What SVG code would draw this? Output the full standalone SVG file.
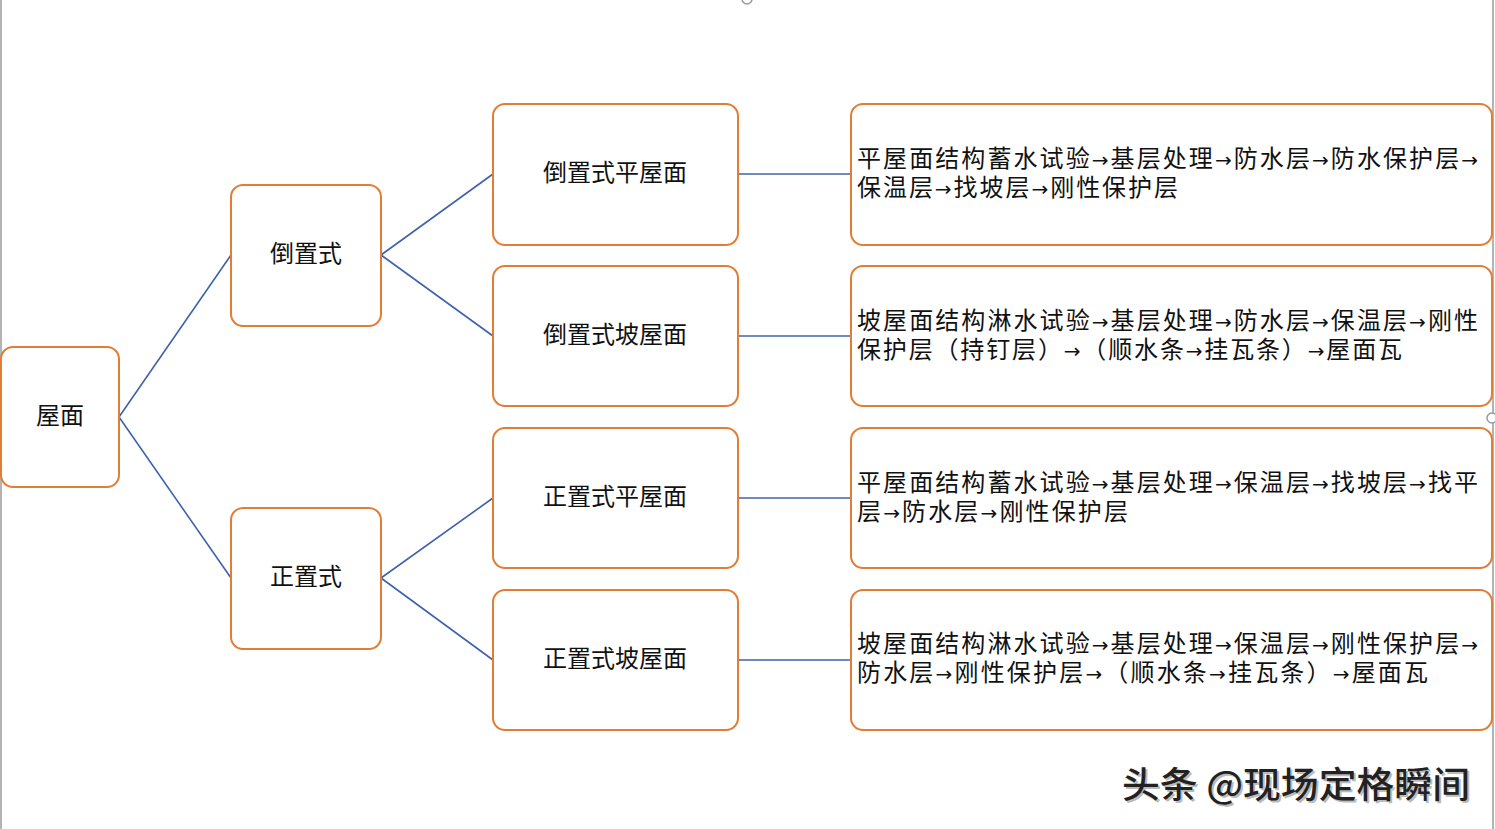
<svg xmlns="http://www.w3.org/2000/svg" width="1495" height="829" viewBox="0 0 1495 829">
<style>
.box{fill:#fff;stroke:#E27D36;stroke-width:2}
.conn{stroke:#3F62AD;stroke-width:1.6;fill:none}
.t{font-family:"Liberation Serif","Noto Sans CJK SC",serif;font-size:24px;fill:#111}
.a{font-family:"DejaVu Sans",sans-serif;font-size:20px}
.c{text-anchor:middle}
.wm{font-family:"Noto Sans CJK SC","Noto Sans",sans-serif;font-size:36px;font-weight:500;fill:#222}
.wms{font-family:"Noto Sans CJK SC","Noto Sans",sans-serif;font-size:36px;font-weight:500;fill:#bbb}
</style>
<rect width="1495" height="829" fill="#fff"/>
<g id="frame" stroke="#9a9a9a" stroke-width="1.5" fill="#fff">
<line x1="1" y1="0" x2="1" y2="829"/>
<line x1="1493" y1="0" x2="1493" y2="829"/>
<circle cx="747" cy="-1" r="5"/>
<circle cx="1492" cy="418" r="5"/>
<rect x="-2" y="408" width="12" height="17" stroke="#ccc"/>
</g>
<g id="connectors">
<line class="conn" x1="119" y1="417" x2="231" y2="255"/>
<line class="conn" x1="119" y1="417" x2="231" y2="578"/>
<line class="conn" x1="381" y1="255" x2="493" y2="174"/>
<line class="conn" x1="381" y1="255" x2="493" y2="336"/>
<line class="conn" x1="381" y1="578" x2="493" y2="498"/>
<line class="conn" x1="381" y1="578" x2="493" y2="660"/>
<line class="conn" x1="738" y1="174" x2="851" y2="174"/>
<line class="conn" x1="738" y1="336" x2="851" y2="336"/>
<line class="conn" x1="738" y1="498" x2="851" y2="498"/>
<line class="conn" x1="738" y1="660" x2="851" y2="660"/>
</g>
<g id="n-root"><rect class="box" x="1" y="347" width="118" height="140" rx="12"/><text class="t c" x="60" y="424">屋面</text></g>
<g id="n-daozhi"><rect class="box" x="231" y="185" width="150" height="141" rx="12"/><text class="t c" x="306" y="262">倒置式</text></g>
<g id="n-zhengzhi"><rect class="box" x="231" y="508" width="150" height="141" rx="12"/><text class="t c" x="306" y="585">正置式</text></g>
<g id="n-d-ping"><rect class="box" x="493" y="104" width="245" height="141" rx="12"/><text class="t c" x="615" y="181">倒置式平屋面</text></g>
<g id="n-d-po"><rect class="box" x="493" y="266" width="245" height="140" rx="12"/><text class="t c" x="615" y="343">倒置式坡屋面</text></g>
<g id="n-z-ping"><rect class="box" x="493" y="428" width="245" height="140" rx="12"/><text class="t c" x="615" y="505">正置式平屋面</text></g>
<g id="n-z-po"><rect class="box" x="493" y="590" width="245" height="140" rx="12"/><text class="t c" x="615" y="667">正置式坡屋面</text></g>
<g id="s-d-ping"><rect class="box" x="851" y="104" width="641" height="141" rx="12"/>
<text class="t" x="857" y="167" textLength="621" lengthAdjust="spacing">平屋面结构蓄水试验<tspan class="a">→</tspan>基层处理<tspan class="a">→</tspan>防水层<tspan class="a">→</tspan>防水保护层<tspan class="a">→</tspan></text>
<text class="t" x="857" y="196" textLength="321" lengthAdjust="spacing">保温层<tspan class="a">→</tspan>找坡层<tspan class="a">→</tspan>刚性保护层</text></g>
<g id="s-d-po"><rect class="box" x="851" y="266" width="641" height="140" rx="12"/>
<text class="t" x="857" y="329" textLength="621" lengthAdjust="spacing">坡屋面结构淋水试验<tspan class="a">→</tspan>基层处理<tspan class="a">→</tspan>防水层<tspan class="a">→</tspan>保温层<tspan class="a">→</tspan>刚性</text>
<text class="t" x="857" y="358" textLength="545" lengthAdjust="spacing">保护层（持钉层）<tspan class="a">→</tspan>（顺水条<tspan class="a">→</tspan>挂瓦条）<tspan class="a">→</tspan>屋面瓦</text></g>
<g id="s-z-ping"><rect class="box" x="851" y="428" width="641" height="140" rx="12"/>
<text class="t" x="857" y="491" textLength="621" lengthAdjust="spacing">平屋面结构蓄水试验<tspan class="a">→</tspan>基层处理<tspan class="a">→</tspan>保温层<tspan class="a">→</tspan>找坡层<tspan class="a">→</tspan>找平</text>
<text class="t" x="857" y="520" textLength="271" lengthAdjust="spacing">层<tspan class="a">→</tspan>防水层<tspan class="a">→</tspan>刚性保护层</text></g>
<g id="s-z-po"><rect class="box" x="851" y="590" width="641" height="140" rx="12"/>
<text class="t" x="857" y="652" textLength="621" lengthAdjust="spacing">坡屋面结构淋水试验<tspan class="a">→</tspan>基层处理<tspan class="a">→</tspan>保温层<tspan class="a">→</tspan>刚性保护层<tspan class="a">→</tspan></text>
<text class="t" x="857" y="681" textLength="571" lengthAdjust="spacing">防水层<tspan class="a">→</tspan>刚性保护层<tspan class="a">→</tspan>（顺水条<tspan class="a">→</tspan>挂瓦条）<tspan class="a">→</tspan>屋面瓦</text></g>
<text class="wms" x="1124" y="800" textLength="348" lengthAdjust="spacingAndGlyphs">头条 @现场定格瞬间</text>
<text class="wm" x="1122" y="798" textLength="348" lengthAdjust="spacingAndGlyphs">头条 @现场定格瞬间</text>
</svg>
